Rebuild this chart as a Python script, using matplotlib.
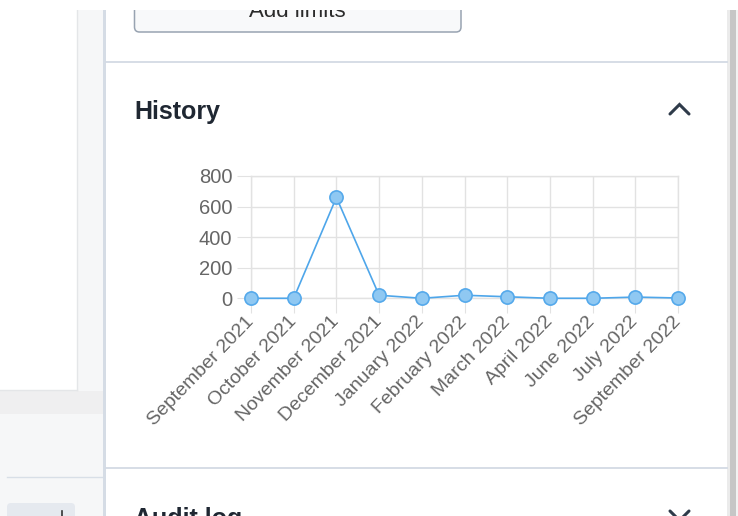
import matplotlib
matplotlib.use("Agg")
import matplotlib.pyplot as plt
from matplotlib.patches import Rectangle, FancyBboxPatch

# ---- data ----
months = ["September 2021", "October 2021", "November 2021", "December 2021",
          "January 2022", "February 2022", "March 2022", "April 2022",
          "June 2022", "July 2022", "September 2022"]
counts = [0, 0, 660, 20, 0, 20, 10, 0, 0, 8, 2]
y_ticks = [0, 200, 400, 600, 800]

W, H = 738, 516
fig = plt.figure(figsize=(W / 100, H / 100), dpi=100)
fig.patch.set_facecolor("white")

# ---- background UI layer in pixel coords ----
bg = fig.add_axes([0, 0, 1, 1], zorder=0)
bg.set_xlim(0, W)
bg.set_ylim(H, 0)
bg.axis("off")

def rect(x0, y0, x1, y1, fc, ec="none", lw=0, z=1):
    bg.add_patch(Rectangle((x0, y0), x1 - x0, y1 - y0, facecolor=fc,
                           edgecolor=ec, linewidth=lw, zorder=z))

# left panel
rect(0, 0, 104, H, "#f6f7f8")
rect(0, 0, 77, 390, "white", z=2)
bg.plot([77, 77], [0, 390], color="#e4e6e8", lw=1, zorder=3)
bg.plot([0, 77], [390, 390], color="#e4e6e8", lw=1, zorder=3)
rect(0, 391, 103, 414, "#efeff0", z=2)
bg.plot([7, 103], [477, 477], color="#d8dfe7", lw=1, zorder=3)
bg.add_patch(FancyBboxPatch((7, 503), 68, 30, boxstyle="round,pad=0,rounding_size=4",
                            facecolor="#e5e9ef", edgecolor="none", zorder=3))
bg.plot([62, 62], [511, 516], color="#333333", lw=1.2, zorder=4)
# divider
rect(102.5, 0, 106, H, "#d5dce5", z=3)
# right panel
rect(106, 0, 727, H, "white", z=2)
rect(727, 0, 729.5, H, "#ebebeb", z=3)
rect(729.5, 0, 736, H, "#c6c6c6", z=3)
rect(736, 0, W, H, "#f2f2f2", z=3)
# separators
bg.plot([106, 727], [61.5, 61.5], color="#d3dae4", lw=1.3, zorder=4)
bg.plot([106, 727], [468, 468], color="#d3dae4", lw=1.3, zorder=4)
# Add limits button (cut by the top of the screenshot)
bg.add_patch(FancyBboxPatch((134.5, -20), 326.5, 52, boxstyle="round,pad=0,rounding_size=5",
                            facecolor="#f8f9fa", edgecolor="#98a3b1", linewidth=1.1, zorder=4))
bg.text(297, 17, "Add limits", ha="center", va="baseline", fontsize=16,
        family="Liberation Sans", color="#2b2b2b", zorder=5)
# top white strip
rect(0, 0, W, 10, "white", z=6)
# section headers
bg.text(134, 119, "History", ha="left", va="baseline", fontsize=18, fontweight="bold",
        family="Liberation Sans", color="#1f2732", zorder=5)
bg.plot([670, 679.5, 689], [114, 104.5, 114], color="#2f3b4a", lw=2.2,
        solid_capstyle="round", solid_joinstyle="miter", zorder=5)
bg.text(134, 526, "Audit log", ha="left", va="baseline", fontsize=18, fontweight="bold",
        family="Liberation Sans", color="#1f2732", zorder=5)
bg.plot([670, 679.5, 689], [511, 520.5, 511], color="#2f3b4a", lw=2.2,
        solid_capstyle="round", zorder=5)

# ---- chart ----
x0, x1, ytop, ybot = 251, 678, 176, 298.3
ax = fig.add_axes([x0 / W, 1 - ybot / H, (x1 - x0) / W, (ybot - ytop) / H], zorder=5)
ax.patch.set_alpha(0)
xs = list(range(len(months)))
ax.plot(xs, counts, color="#4ea6ea", lw=1.2, marker="o", markersize=9.5,
        markerfacecolor="#8fc8f2", markeredgecolor="#55a9eb", markeredgewidth=1.2,
        clip_on=False, zorder=5)
ax.set_xlim(0, len(months) - 1)
ax.set_ylim(0, 800)
ax.set_yticks(y_ticks)
ax.set_xticks(xs)
ax.set_xticklabels(months, rotation=46, ha="right", va="center", rotation_mode="anchor")
grid_c = "#e2e2e2"
ax.grid(True, color=grid_c, lw=1)
ax.set_axisbelow(True)
for s in ax.spines.values():
    s.set_color(grid_c)
    s.set_linewidth(1)
ax.tick_params(axis="y", length=10, color=grid_c, pad=3.5, labelsize=14.5, labelcolor="#666666")
ax.tick_params(axis="x", length=11, color=grid_c, pad=4, labelsize=14, labelcolor="#666666")
for lab in ax.get_xticklabels() + ax.get_yticklabels():
    lab.set_family("Liberation Sans")

fig.savefig("out.png", dpi=100, facecolor="white")
